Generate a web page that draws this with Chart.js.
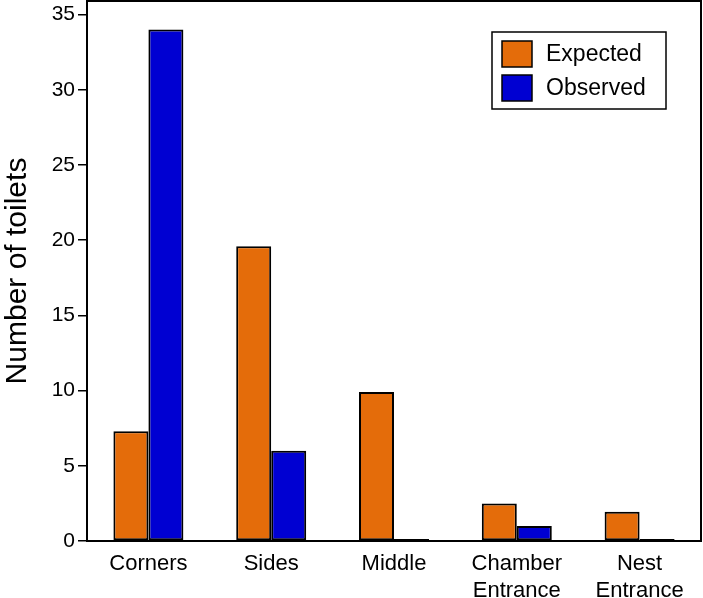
<!DOCTYPE html>
<html>
<head>
<meta charset="utf-8">
<script src="https://cdn.jsdelivr.net/npm/chart.js@4.4.1/dist/chart.umd.min.js"></script>
<style>
  html, body { margin: 0; padding: 0; background: #fff; }
  #wrap { width: 703px; height: 598px; position: relative; }
</style>
</head>
<body>
<div id="wrap"><canvas id="c" width="703" height="598"></canvas></div>
<script>
const categories = [["Corners"], ["Sides"], ["Middle"], ["Chamber", "Entrance"], ["Nest", "Entrance"]];
const expected = [7.3, 19.6, 9.9, 2.5, 1.95];
const observed = [34, 6, 0, 1, 0];
const seriesLabels = ["Expected", "Observed"];
const yTicks = [0, 5, 10, 15, 20, 25, 30, 35];
const yMax = 35.9;

const FONT = "'Liberation Sans', Arial, sans-serif";

const framePlugin = {
  id: 'frame',
  afterDraw(chart) {
    const { ctx, chartArea: a } = chart;
    ctx.save();
    ctx.strokeStyle = '#000';
    ctx.lineWidth = 2;
    ctx.strokeRect(a.left, a.top, a.right - a.left, a.bottom - a.top);
    // legend
    const bx = a.right - 209, by = a.top + 31, bw = 174, bh = 77;
    ctx.fillStyle = '#fff';
    ctx.fillRect(bx, by, bw, bh);
    ctx.lineWidth = 1.5;
    ctx.strokeRect(bx, by, bw, bh);
    chart.data.datasets.forEach((ds, i) => {
      const sy = by + 9 + i * 34;
      ctx.fillStyle = ds.backgroundColor;
      ctx.fillRect(bx + 10, sy, 30, 26);
      ctx.strokeStyle = '#000';
      ctx.lineWidth = 1.5;
      ctx.strokeRect(bx + 10, sy, 30, 26);
      ctx.fillStyle = '#000';
      ctx.font = '23px ' + FONT;
      ctx.textBaseline = 'middle';
      ctx.textAlign = 'left';
      ctx.fillText(ds.label, bx + 54, sy + 14);
    });
    ctx.restore();
  }
};

new Chart(document.getElementById('c'), {
  type: 'bar',
  data: {
    labels: categories,
    datasets: [
      { label: seriesLabels[0], data: expected, backgroundColor: '#E46C0A', borderColor: '#000', borderWidth: 2, borderSkipped: false },
      { label: seriesLabels[1], data: observed, backgroundColor: '#0000D2', borderColor: '#000', borderWidth: 2, borderSkipped: false, minBarLength: 2 }
    ]
  },
  options: {
    responsive: false,
    animation: false,
    devicePixelRatio: 1,
    layout: { padding: { top: 1, right: 2, left: 0, bottom: 0 } },
    plugins: { legend: { display: false }, tooltip: { enabled: false } },
    datasets: { bar: { categoryPercentage: 0.57, barPercentage: 1.0 } },
    scales: {
      x: {
        grid: { display: false, drawTicks: false },
        border: { display: true, color: '#000', width: 2 },
        ticks: { color: '#000', font: { family: FONT, size: 22 }, padding: 10, maxRotation: 0, autoSkip: false },
        afterFit(s) { s.height = 57; s.paddingLeft = 0; s.paddingRight = 0; }
      },
      y: {
        min: 0, max: yMax,
        afterBuildTicks(s) { s.ticks = yTicks.map(v => ({ value: v })); },
        grid: { display: true, drawOnChartArea: false, drawTicks: true, tickLength: 9, color: '#000', lineWidth: 1.5 },
        border: { display: true, color: '#000', width: 2 },
        ticks: { color: '#000', font: { family: FONT, size: 21 }, padding: 3 },
        title: { display: true, text: 'Number of toilets', color: '#000', font: { family: FONT, size: 30 }, padding: { top: 0, bottom: 6 } },
        afterFit(s) { s.width = 87; s.paddingTop = 0; s.paddingBottom = 0; }
      }
    }
  },
  plugins: [framePlugin]
});
</script>
</body>
</html>
